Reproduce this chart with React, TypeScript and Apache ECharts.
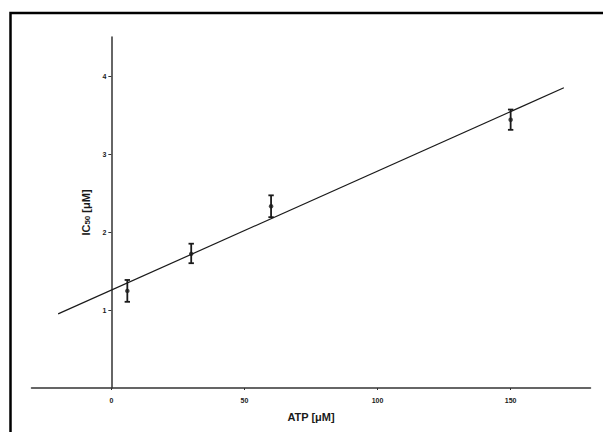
import React, { useEffect, useRef } from "react";
import * as echarts from "echarts";

const atp = [6, 30, 60, 150];
const ic50 = [1.245, 1.72, 2.33, 3.44];
const errLow = [1.105, 1.6, 2.19, 3.31];
const errHigh = [1.385, 1.85, 2.47, 3.57];
const fitX = [-20, 170];
const fitY = [0.95, 3.849];
const xTicks = [0, 50, 100, 150];
const yTicks = [1, 2, 3, 4];

const FONT = "Arial, 'Liberation Sans', sans-serif";
const INK = "#1a1a1a";

const X_MIN = -30;
const X_MAX = 180;
const GRID_LEFT = 31.5;
const GRID_RIGHT = 12.5;
const W = 603;

export default function App() {
  const ref = useRef<HTMLDivElement>(null);
  useEffect(() => {
    if (!ref.current) return;
    const chart = echarts.init(ref.current, undefined, { renderer: "svg" });
    const errData = atp.map((x, i) => [x, errLow[i], errHigh[i]]);
    const gridW = W - GRID_LEFT - GRID_RIGHT;
    const yOffset = -((0 - X_MIN) / (X_MAX - X_MIN)) * gridW;
    chart.setOption({
      animation: false,
      backgroundColor: "#fff",
      grid: { left: GRID_LEFT, right: GRID_RIGHT, top: 37, bottom: 44, outerBoundsMode: "none", containLabel: false },
      xAxis: {
        type: "value",
        min: X_MIN,
        max: X_MAX,
        interval: 10,
        splitLine: { show: false },
        axisLine: { onZero: false, lineStyle: { color: "#333", width: 1.5 } },
        axisTick: {
          length: 2,
          lineStyle: { color: "#333" },
          customValues: xTicks,
        },
        axisLabel: {
          customValues: xTicks,
          color: INK,
          fontFamily: FONT,
          fontWeight: "bold",
          fontSize: 7,
          margin: 9,
        },
        name: "ATP [μM]",
        nameLocation: "middle",
        nameGap: 23,
        nameTextStyle: { color: INK, fontFamily: FONT, fontWeight: "bold", fontSize: 11 },
      },
      yAxis: {
        type: "value",
        min: 0,
        max: 4.5,
        interval: 0.5,
        offset: yOffset,
        splitLine: { show: false },
        axisLine: { onZero: false, lineStyle: { color: "#333", width: 1.5 } },
        axisTick: {
          length: 3,
          lineStyle: { color: "#333" },
          customValues: yTicks,
        },
        axisLabel: {
          customValues: yTicks,
          color: INK,
          fontFamily: FONT,
          fontWeight: "bold",
          fontSize: 7,
          margin: 5,
        },
        name: "{a|IC}{b|50}{a| [μM]}",
        nameLocation: "middle",
        nameGap: 12,
        nameRotate: 90,
        nameTextStyle: {
          rich: {
            a: { color: INK, fontFamily: FONT, fontWeight: "bold", fontSize: 11 },
            b: { color: INK, fontFamily: FONT, fontWeight: "bold", fontSize: 8, verticalAlign: "bottom", padding: [4, 0, 0, 0] },
          },
        },
      },
      graphic: [
        {
          type: "rect",
          shape: { x: 10.5, y: 13, width: 700, height: 600 },
          style: { fill: "none", stroke: "#000", lineWidth: 2.5 },
          silent: true,
          z: 100,
        },
      ],
      series: [
        {
          type: "line",
          data: fitX.map((x, i) => [x, fitY[i]]),
          symbol: "none",
          lineStyle: { color: INK, width: 1.2 },
          z: 2,
        },
        {
          type: "custom",
          data: errData,
          renderItem: (params: any, api: any) => {
            const x = api.value(0);
            const lo = api.coord([x, api.value(1)]);
            const hi = api.coord([x, api.value(2)]);
            const c = 2.7;
            const style = { stroke: INK, lineWidth: 1.8 };
            return {
              type: "group",
              children: [
                { type: "line", shape: { x1: lo[0], y1: lo[1], x2: hi[0], y2: hi[1] }, style },
                { type: "line", shape: { x1: lo[0] - c, y1: lo[1], x2: lo[0] + c, y2: lo[1] }, style },
                { type: "line", shape: { x1: hi[0] - c, y1: hi[1], x2: hi[0] + c, y2: hi[1] }, style },
              ],
            };
          },
          z: 3,
        },
        {
          type: "scatter",
          data: atp.map((x, i) => [x, ic50[i]]),
          symbol: "circle",
          symbolSize: 4.5,
          itemStyle: { color: INK },
          z: 4,
        },
      ],
    });
    return () => chart.dispose();
  }, []);
  return (
    <div
      ref={ref}
      style={{ position: "fixed", left: 0, top: 0, width: 603, height: 432 }}
    />
  );
}
